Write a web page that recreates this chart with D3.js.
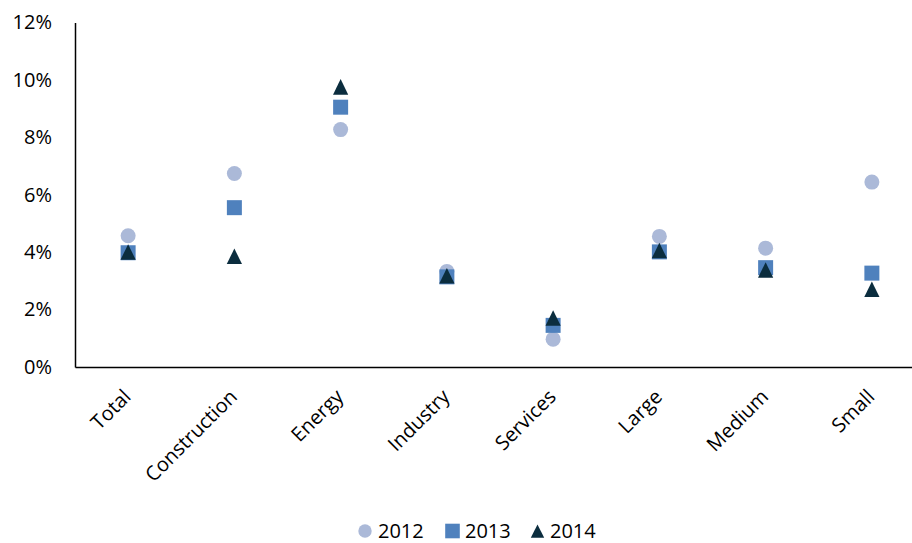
<!DOCTYPE html>
<html>
<head>
<meta charset="utf-8">
<script src="https://cdn.jsdelivr.net/npm/d3@7"></script>
<style>
  body { margin: 0; background: #fff; }
  svg { display: block; }
  text { font-family: "Open Sans", "Noto Sans", sans-serif; fill: #000; }
</style>
</head>
<body>
<svg id="chart" width="912" height="543"></svg>
<script>
const categories = ["Total", "Construction", "Energy", "Industry", "Services", "Large", "Medium", "Small"];
const values2012 = [4.57, 6.74, 8.27, 3.33, 0.97, 4.55, 4.14, 6.44];
const values2013 = [3.98, 5.55, 9.05, 3.14, 1.45, 4.01, 3.46, 3.27];
const values2014 = [4.00, 3.85, 9.75, 3.17, 1.70, 4.05, 3.37, 2.70];
const yTicks = [0, 2, 4, 6, 8, 10, 12];
const seriesNames = ["2012", "2013", "2014"];

(function () {
const colors = { "2012": "#abb9d8", "2013": "#4f81bd", "2014": "#0b2d3e" };
const shapes = { "2012": "circle", "2013": "square", "2014": "triangle" };
const fontSize = "20px";

const svg = d3.select("#chart");
const mLeft = 75, mRight = 925, mTop = 22.5, mBottom = 367;

const x = d3.scaleBand().domain(categories).range([mLeft, mRight]);
const y = d3.scaleLinear().domain([0, 12]).range([mBottom, mTop]);

// Y axis
const yAxis = d3.axisLeft(y).tickValues(yTicks).tickSize(0).tickPadding(23)
  .tickFormat(d => d + "%");
const gy = svg.append("g").attr("transform", `translate(${mLeft},0)`).call(yAxis);
gy.select(".domain").attr("stroke", "#000").attr("stroke-width", 1.5);
gy.selectAll("text").style("font-size", fontSize).style("font-family", '"Open Sans", sans-serif').attr("fill", "#000");

// X axis
const xAxis = d3.axisBottom(x).tickSize(0).tickPadding(0);
const gx = svg.append("g").attr("transform", `translate(0,${mBottom})`).call(xAxis);
gx.select(".domain").attr("stroke", "#000").attr("stroke-width", 1.5);
gx.selectAll("text")
  .style("font-size", fontSize).style("font-family", '"Open Sans", sans-serif').attr("fill", "#000")
  .attr("text-anchor", "end")
  .attr("dy", "0")
  .attr("y", 0)
  .attr("transform", "translate(4,31) rotate(-45)");

function symbolPath(shape) {
  if (shape === "circle") return d3.symbol().type(d3.symbolCircle).size(Math.PI * 7.5 * 7.5)();
  if (shape === "square") return "M-7.5,-7.5H7.5V7.5H-7.5Z";
  return "M0,-8L7.6,7.6H-7.6Z";
}

const series = [
  { name: "2012", values: values2012 },
  { name: "2013", values: values2013 },
  { name: "2014", values: values2014 }
];

series.forEach(s => {
  svg.append("g").selectAll("path")
    .data(categories.map((c, i) => ({ c, v: s.values[i] })))
    .join("path")
    .attr("d", symbolPath(shapes[s.name]))
    .attr("fill", colors[s.name])
    .attr("transform", d => `translate(${x(d.c) + x.bandwidth() / 2},${y(d.v)})`);
});

// Legend
const legendItems = [
  { name: seriesNames[0], mx: 365, tx: 378 },
  { name: seriesNames[1], mx: 452.5, tx: 465 },
  { name: seriesNames[2], mx: 537.5, tx: 550 }
];
const ly = 531;
const lg = svg.append("g");
legendItems.forEach(it => {
  lg.append("path")
    .attr("d", it.name === "2012" ? d3.symbol().type(d3.symbolCircle).size(Math.PI * 6.7 * 6.7)()
      : it.name === "2013" ? "M-7.3,-7.3H7.3V7.3H-7.3Z" : "M0,-6.5L6.7,6.7H-6.7Z")
    .attr("fill", colors[it.name])
    .attr("transform", `translate(${it.mx},${ly})`);
  lg.append("text")
    .attr("x", it.tx).attr("y", ly).attr("dy", "0.35em")
    .style("font-size", fontSize)
    .text(it.name);
});
})();
</script>
</body>
</html>
